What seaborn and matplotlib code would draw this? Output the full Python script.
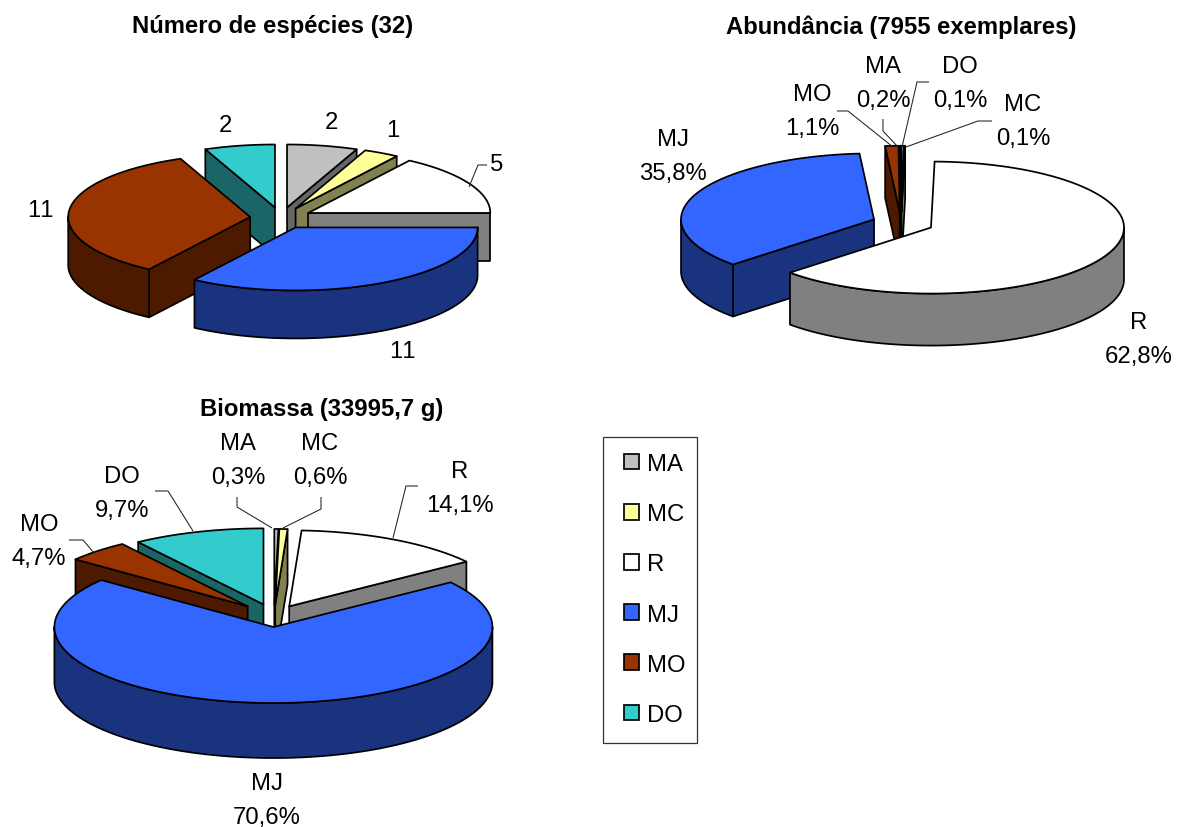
import numpy as np
import matplotlib
matplotlib.use("Agg")
import matplotlib.pyplot as plt
from matplotlib.patches import Polygon, Patch, Rectangle
import seaborn as sns

sns.set_theme(style="white")
plt.rcParams["font.family"] = ["Liberation Sans", "DejaVu Sans"]
plt.rcParams["text.kerning_factor"] = 6

# Categories in stacking order, clockwise from twelve o'clock
categories = ["MA", "MC", "R", "MJ", "MO", "DO"]
species_counts = [2, 1, 5, 11, 11, 2]
abundance_pct = [0.2, 0.1, 62.8, 35.8, 1.1, 0.1]
biomass_pct = [0.3, 0.6, 14.1, 70.6, 4.7, 9.7]

top_colors = ["#C0C0C0", "#FFFF99", "#FFFFFF", "#3366FF", "#993300", "#33CCCC"]
side_colors = ["#666666", "#808050", "#808080", "#1A337F", "#4D1A00", "#1A6666"]
palette = sns.color_palette(top_colors)

titles = ["Número de espécies (32)", "Abundância (7955 exemplares)", "Biomassa (33995,7 g)"]

FS = 17.2
EDGE = 1.25
LINE_GAP = 1.68


def draw_pie(ax, values, cx, cy, rx, ry, depth, explode):
    """Draw an exploded pie as tilted slices with extruded walls."""
    vals = np.asarray(values, dtype=float)
    explode = np.broadcast_to(explode, vals.shape)
    edges = np.concatenate([[0], np.cumsum(vals)]) / vals.sum() * 2 * np.pi
    starts, ends = edges[:-1], edges[1:]
    mids = (starts + ends) / 2
    # Back slices are painted first so that nearer ones cover them
    for i in np.argsort(-np.cos(mids), kind="stable"):
        t0, t1, m = starts[i], ends[i], mids[i]
        tx = cx + explode[i] * rx * np.sin(m)
        ty = cy - explode[i] * ry * np.cos(m)
        t = np.linspace(t0, t1, max(int((t1 - t0) * 60), 3))
        top_x = tx + rx * np.sin(t)
        top_y = ty - ry * np.cos(t)

        kw = dict(edgecolor="black", linewidth=EDGE, joinstyle="round")
        # Radial walls, only those turned towards the viewer
        for a, visible in ((t0, np.sin(t0) < -1e-9), (t1, np.sin(t1) > 1e-9)):
            if visible:
                ex, ey = tx + rx * np.sin(a), ty - ry * np.cos(a)
                quad = [(tx, ty), (ex, ey), (ex, ey + depth), (tx, ty + depth)]
                ax.add_patch(Polygon(quad, closed=True, facecolor=side_colors[i], **kw))
        # Outer wall along the near half of the rim
        lo, hi = max(t0, np.pi / 2), min(t1, 3 * np.pi / 2)
        if hi > lo:
            r = np.linspace(lo, hi, max(int((hi - lo) * 60), 3))
            rim_x = tx + rx * np.sin(r)
            rim_y = ty - ry * np.cos(r)
            pts = np.r_[np.c_[rim_x, rim_y], np.c_[rim_x[::-1], rim_y[::-1] + depth]]
            ax.add_patch(Polygon(pts, closed=True, facecolor=side_colors[i], **kw))
        # Top face
        pts = np.r_[[[tx, ty]], np.c_[top_x, top_y]]
        ax.add_patch(Polygon(pts, closed=True, facecolor=palette[i], **kw))


def pct(category, value):
    return f"{category}\n{value:.1f}%".replace(".", ",")


def leader(ax, xs, ys):
    ax.plot(xs, ys, color="#222222", lw=0.75, solid_capstyle="butt", zorder=5)


fig = plt.figure(figsize=(11.78, 8.28), dpi=100, facecolor="white")
ax = fig.add_axes([0, 0, 1, 1])
ax.set_xlim(0, 1178)
ax.set_ylim(828, 0)
ax.axis("off")

draw_pie(ax, species_counts, 281, 219, 182, 63, 48, 0.17)
draw_pie(ax, abundance_pct, 901, 224, 193, 66, 52, [0.17, 0.17, 0.17, 0.15, 0.17, 0.17])
draw_pie(ax, biomass_pct, 274, 617, 219, 76, 55, [0.145, 0.145, 0.145, 0.145, 0.175, 0.16])

# Titles
for (x, y), title in zip([(273, 27), (901, 27), (322, 410)], titles):
    ax.text(x, y, title, ha="center", va="center", fontsize=FS, fontweight="bold", color="black")

# Species count labels
species_pos = {"MA": (331, 123), "MC": (393, 131), "R": (497, 165),
               "MJ": (402, 352), "MO": (40, 211), "DO": (225, 126)}
for c, v in zip(categories, species_counts):
    ax.text(*species_pos[c], str(v), ha="center", va="center", fontsize=FS, color="black")

# Abundance labels
abundance_pos = {"MA": (883, 84), "MC": (1023, 122), "R": (1139, 340),
                 "MJ": (673, 157), "MO": (812, 112), "DO": (960, 84)}
for c, v in zip(categories, abundance_pct):
    ax.text(*abundance_pos[c], pct(c, v), ha="center", va="center", fontsize=FS,
            color="black", linespacing=LINE_GAP)

# Biomass labels
biomass_pos = {"MA": (238, 461), "MC": (320, 461), "R": (460, 489),
               "MJ": (267, 801), "MO": (39, 542), "DO": (122, 494)}
for c, v in zip(categories, biomass_pct):
    ax.text(*biomass_pos[c], pct(c, v), ha="center", va="center", fontsize=FS,
            color="black", linespacing=LINE_GAP)

# Leader lines
leader(ax, [487, 478, 469], [166, 166, 188])
leader(ax, [837, 848, 893], [112, 112, 148])
leader(ax, [883, 883, 898], [120, 132, 148])
leader(ax, [929, 917, 902], [83, 83, 148])
leader(ax, [992, 978, 906], [122, 122, 148])
leader(ax, [237, 237, 272], [498, 508, 529])
leader(ax, [321, 321, 283], [498, 510, 529])
leader(ax, [418, 406, 393], [487, 487, 539])
leader(ax, [155, 168, 193], [492, 492, 532])
leader(ax, [69, 83, 94], [541, 541, 554])

# Legend: a plain frame with the entries placed inside it
ax.add_patch(Rectangle((603, 438), 94, 306, facecolor="white", edgecolor="#333333", linewidth=0.9))
handles = [Patch(facecolor=palette[i], edgecolor="black", linewidth=EDGE, label=c)
           for i, c in enumerate(categories)]
leg = ax.legend(handles=handles, loc="upper left", bbox_to_anchor=(624 / 1178, 1 - 454 / 828),
                bbox_transform=fig.transFigure, fontsize=FS, frameon=False, borderaxespad=0,
                borderpad=0, handlelength=0.64, handleheight=0.64, handletextpad=0.34,
                labelspacing=1.18, labelcolor="black")

fig.savefig("out.png", dpi=100, facecolor="white")
